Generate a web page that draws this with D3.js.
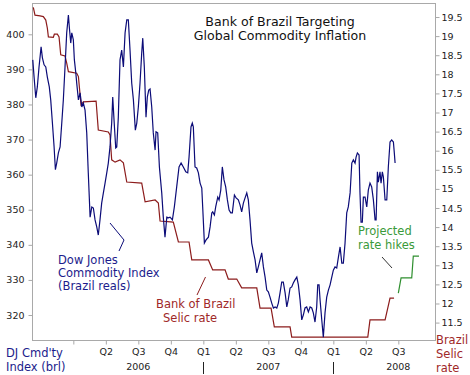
<!DOCTYPE html>
<html>
<head>
<meta charset="utf-8">
<script src="https://cdn.jsdelivr.net/npm/d3@7"></script>
<style>
  body { margin: 0; background: #fff; }
  svg { display: block; font-family: "DejaVu Sans", Verdana, sans-serif; }
</style>
</head>
<body>
<div id="chart"></div>
<script>
// Dow Jones Commodity Index in Brazilian reals (time as decimal year)
const djDates = [
  2005.688, 2005.698, 2005.711, 2005.723, 2005.736, 2005.752, 2005.762, 2005.775, 2005.788, 2005.800,
  2005.815, 2005.826, 2005.839, 2005.852, 2005.862, 2005.872, 2005.885, 2005.898, 2005.911, 2005.923,
  2005.936, 2005.949, 2005.962, 2005.969, 2005.980, 2005.988, 2006.000, 2006.008, 2006.019, 2006.026,
  2006.039, 2006.052, 2006.065, 2006.077, 2006.090, 2006.103, 2006.115, 2006.129, 2006.142, 2006.154,
  2006.167, 2006.180, 2006.192, 2006.205, 2006.218, 2006.231, 2006.244, 2006.257, 2006.269, 2006.282,
  2006.295, 2006.303, 2006.313, 2006.326, 2006.334, 2006.346, 2006.359, 2006.372, 2006.385, 2006.398,
  2006.411, 2006.423, 2006.436, 2006.449, 2006.462, 2006.477, 2006.488, 2006.500, 2006.513, 2006.526,
  2006.534, 2006.546, 2006.559, 2006.569, 2006.580, 2006.590, 2006.603, 2006.615, 2006.629, 2006.636,
  2006.649, 2006.662, 2006.680, 2006.692, 2006.705, 2006.719, 2006.731, 2006.744, 2006.762, 2006.777,
  2006.795, 2006.813, 2006.829, 2006.846, 2006.865, 2006.880, 2006.890, 2006.905, 2006.915, 2006.923,
  2006.936, 2006.949, 2006.962, 2006.975, 2006.988, 2006.995, 2007.008, 2007.021, 2007.039, 2007.052,
  2007.065, 2007.072, 2007.085, 2007.095, 2007.111, 2007.121, 2007.134, 2007.146, 2007.159, 2007.172,
  2007.185, 2007.198, 2007.211, 2007.223, 2007.239, 2007.252, 2007.269, 2007.282, 2007.295, 2007.308,
  2007.321, 2007.334, 2007.346, 2007.359, 2007.372, 2007.385, 2007.398, 2007.411, 2007.423, 2007.436,
  2007.449, 2007.462, 2007.475, 2007.488, 2007.500, 2007.513, 2007.526, 2007.539, 2007.552, 2007.565,
  2007.577, 2007.590, 2007.603, 2007.615, 2007.629, 2007.642, 2007.653, 2007.667, 2007.680, 2007.692,
  2007.705, 2007.719, 2007.731, 2007.744, 2007.757, 2007.769, 2007.782, 2007.795, 2007.808, 2007.821,
  2007.834, 2007.846, 2007.859, 2007.872, 2007.880, 2007.890, 2007.898, 2007.911, 2007.923, 2007.936,
  2007.949, 2007.962, 2007.975, 2007.988, 2008.000, 2008.013, 2008.026, 2008.039, 2008.052, 2008.065,
  2008.077, 2008.090, 2008.103, 2008.115, 2008.129, 2008.142, 2008.154, 2008.167, 2008.175, 2008.185,
  2008.198, 2008.205, 2008.213, 2008.223, 2008.231, 2008.244, 2008.257, 2008.269, 2008.282, 2008.295,
  2008.308, 2008.321, 2008.329, 2008.339, 2008.346, 2008.359, 2008.367, 2008.377, 2008.385, 2008.398,
  2008.411, 2008.423, 2008.436, 2008.449, 2008.462, 2008.469, 2008.475
];
const djValues = [
  392.7, 387.8, 381.9, 385.0, 390.7, 396.4, 393.3, 391.3, 390.7, 387.8,
  385.0, 381.3, 374.7, 367.9, 361.4, 363.3, 366.2, 367.9, 374.7, 381.3,
  390.7, 400.4, 405.5, 402.1, 397.5, 400.4, 398.4, 392.7, 389.0, 386.1,
  381.3, 383.3, 379.3, 380.4, 378.4, 371.9, 360.5, 347.9, 350.8, 350.5,
  347.1, 345.1, 342.8, 347.1, 351.9, 354.8, 357.6, 360.5, 363.3, 367.9,
  374.7, 382.1, 375.6, 367.6, 367.9, 376.4, 392.7, 395.5, 390.7, 400.4,
  404.1, 404.1, 395.5, 386.1, 381.3, 372.7, 374.7, 379.3, 386.1, 394.7,
  398.9, 390.7, 376.4, 382.1, 384.1, 384.4, 379.3, 371.9, 367.0, 372.2,
  371.9, 362.2, 354.8, 347.9, 342.2, 347.9, 347.7, 347.9, 347.1, 350.8,
  356.5, 362.2, 363.3, 362.2, 360.8, 360.5, 365.0, 373.6, 374.7, 373.6,
  362.2, 361.9, 360.5, 357.6, 356.2, 350.8, 340.5, 341.4, 342.2, 345.1,
  349.1, 349.4, 348.5, 350.8, 353.6, 352.8, 355.6, 362.2, 358.5, 356.5,
  352.8, 349.9, 349.1, 349.1, 354.2, 353.4, 352.8, 351.4, 349.4, 351.9,
  353.4, 354.8, 352.8, 347.1, 340.5, 338.0, 335.7, 332.0, 333.7, 335.7,
  337.7, 333.7, 330.8, 327.1, 326.6, 325.1, 323.4, 322.0, 322.3, 322.0,
  323.4, 326.3, 329.4, 329.4, 326.3, 322.3, 324.3, 327.7, 328.0, 329.1,
  330.0, 330.8, 328.6, 324.3, 318.6, 320.0, 322.0, 322.3, 320.9, 322.3,
  322.0, 320.6, 318.0, 322.3, 328.6, 328.6, 324.3, 318.6, 313.7, 320.6,
  325.1, 327.1, 328.6, 330.8, 332.8, 333.7, 333.4, 336.5, 339.4, 334.8,
  334.8, 340.5, 349.1, 350.8, 354.8, 363.3, 364.2, 363.3, 365.0, 366.2,
  365.6, 354.8, 346.5, 346.5, 353.6, 353.6, 350.8, 355.6, 357.6, 356.5,
  352.8, 347.1, 347.1, 360.8, 357.9, 360.8, 357.6, 360.8, 359.3, 352.8,
  352.8, 362.2, 369.3, 369.9, 369.3, 366.2, 363.3
];

// Bank of Brazil Selic rate (%)
const selicDates = [
  2005.692, 2005.705, 2005.744, 2005.769, 2005.788, 2005.800, 2005.808, 2005.846, 2005.854, 2005.877,
  2005.890, 2005.903, 2005.936, 2005.949, 2005.962, 2006.026, 2006.039, 2006.059, 2006.077, 2006.175,
  2006.192, 2006.269, 2006.282, 2006.295, 2006.321, 2006.359, 2006.385, 2006.411, 2006.526, 2006.552,
  2006.629, 2006.654, 2006.667, 2006.769, 2006.808, 2006.890, 2006.911, 2007.039, 2007.072, 2007.167,
  2007.192, 2007.257, 2007.295, 2007.411, 2007.436, 2007.521, 2007.546, 2007.667, 2007.680, 2008.265,
  2008.282, 2008.398, 2008.436, 2008.467
];
const selicRates = [
  19.75, 19.55, 19.53, 19.51, 19.42, 19.21, 18.98, 18.97, 19.05, 19.05,
  18.98, 18.51, 18.48, 18.29, 18.07, 18.03, 17.94, 17.20, 17.28, 17.30,
  16.54, 16.49, 16.41, 15.76, 15.70, 15.76, 15.68, 15.18, 15.15, 14.66,
  14.71, 14.63, 14.16, 14.13, 13.61, 13.61, 13.14, 13.14, 12.88, 12.88,
  12.64, 12.64, 12.41, 12.41, 11.88, 11.88, 11.39, 11.39, 11.12, 11.12,
  11.57, 11.57, 12.14, 12.14
];

// Projected rate hikes
const projDates = [2008.500, 2008.521, 2008.603, 2008.615, 2008.659];
const projRates = [12.27, 12.67, 12.67, 13.24, 13.24];

// Axis ticks and labels
const djTicks = [320, 330, 340, 350, 360, 370, 380, 390, 400];
const rateTicks = [11.5, 12, 12.5, 13, 13.5, 14, 14.5, 15, 15.5, 16, 16.5, 17, 17.5, 18, 18.5, 19, 19.5];
const quarterTicks = [2006, 2006.25, 2006.5, 2006.75, 2007, 2007.25, 2007.5, 2007.75, 2008, 2008.25, 2008.5];
const quarterLabels = ["", "Q2", "Q3", "Q4", "Q1", "Q2", "Q3", "Q4", "Q1", "Q2", "Q3"];
const yearTicks = [2006.5, 2007.5, 2008.5];
const yearLabels = ["2006", "2007", "2008"];
const yearBreaks = [2007, 2008];

class SelicChart {
  constructor(_config) {
    this.config = {
      parentElement: _config.parentElement,
      width: 470,
      height: 375,
      left: 32, right: 435, top: 3, bottom: 340
    };
    this.initVis();
  }

  initVis() {
    let vis = this;
    vis.svg = d3.select(vis.config.parentElement).append('svg')
      .attr('width', vis.config.width)
      .attr('height', vis.config.height);

    vis.dj = djDates.map((t, i) => ({ t, v: djValues[i] }));
    vis.selic = selicDates.map((t, i) => ({ t, v: selicRates[i] }));
    vis.proj = projDates.map((t, i) => ({ t, v: projRates[i] }));
    vis.renderVis();
  }

  renderVis() {
    let vis = this;
    const c = vis.config;
    const svg = vis.svg;
    const grey = '#a9a9a9';
    const navy = '#0c0c78', navyText = '#1c1c8c';
    const red = '#8c1c1c', redText = '#a02828';
    const green = '#2f8f2f', greenText = '#3a9a3a';

    const x = d3.scaleLinear().domain([2005.682, 2008.782]).range([c.left, c.right]);
    const yDJ = d3.scaleLinear().domain([312.88, 408.92]).range([c.bottom, c.top]);
    const yRate = d3.scaleLinear().domain([11.044, 19.867]).range([c.bottom, c.top]);

    // frame
    svg.append('rect')
      .attr('x', c.left + 0.5).attr('y', c.top + 0.5)
      .attr('width', c.right - c.left).attr('height', c.bottom - c.top)
      .attr('fill', 'none').attr('stroke', grey);

    const styleAxis = g => {
      g.select('.domain').remove();
      g.attr('font-family', null).attr('font-size', null);
      g.selectAll('line').attr('stroke', grey);
      g.selectAll('text').attr('fill', '#222').style('font-size', '9.5px');
    };

    svg.append('g')
      .attr('transform', `translate(${c.left + 0.5},0)`)
      .call(d3.axisLeft(yDJ).tickValues(djTicks).tickSize(4).tickPadding(4))
      .call(styleAxis);

    svg.append('g')
      .attr('transform', `translate(${c.right + 0.5},0)`)
      .call(d3.axisRight(yRate).tickValues(rateTicks).tickSize(4).tickPadding(2).tickFormat(d => String(d)))
      .call(styleAxis);

    svg.append('g')
      .attr('transform', `translate(0,${c.bottom + 0.5})`)
      .call(d3.axisBottom(x).tickValues(quarterTicks).tickSize(4).tickPadding(4)
        .tickFormat((d, i) => quarterLabels[i]))
      .call(styleAxis);

    svg.selectAll('.year')
      .data(yearTicks)
      .enter().append('text')
      .attr('x', d => x(d)).attr('y', 370)
      .attr('text-anchor', 'middle')
      .style('font-size', '9.5px').attr('fill', '#222')
      .text((d, i) => yearLabels[i]);

    svg.selectAll('.year-break')
      .data(yearBreaks)
      .enter().append('line')
      .attr('x1', d => Math.round(x(d)) + 0.5).attr('x2', d => Math.round(x(d)) + 0.5)
      .attr('y1', 362).attr('y2', 374)
      .attr('stroke', '#222');

    // series
    const lineDJ = d3.line().x(d => x(d.t)).y(d => yDJ(d.v));
    const lineRate = d3.line().x(d => x(d.t)).y(d => yRate(d.v));

    svg.append('path').datum(vis.selic)
      .attr('d', lineRate).attr('fill', 'none')
      .attr('stroke', red).attr('stroke-width', 1.2);

    svg.append('path').datum(vis.proj)
      .attr('d', lineRate).attr('fill', 'none')
      .attr('stroke', green).attr('stroke-width', 1.2);

    svg.append('path').datum(vis.dj)
      .attr('d', lineDJ).attr('fill', 'none')
      .attr('stroke', navy).attr('stroke-width', 1.2);

    // title
    svg.append('text')
      .attr('x', 280).attr('text-anchor', 'middle')
      .style('font-size', '12.6px').attr('fill', '#111')
      .selectAll('tspan')
      .data(['Bank of Brazil Targeting', 'Global Commodity Inflation'])
      .enter().append('tspan')
      .attr('x', 280).attr('y', (d, i) => 26 + i * 13.5)
      .text(d => d);

    // annotations
    const note = (lines, xPos, y0, step, color, size) => {
      svg.append('text')
        .style('font-size', size).attr('fill', color)
        .selectAll('tspan')
        .data(lines)
        .enter().append('tspan')
        .attr('x', (d, i) => Array.isArray(xPos) ? xPos[i] : xPos)
        .attr('y', (d, i) => y0 + i * step)
        .text(d => d);
    };
    const leader = (pts, color) => {
      svg.append('path')
        .attr('d', d3.line()(pts))
        .attr('fill', 'none').attr('stroke', color).attr('stroke-width', 1);
    };

    note(['Dow Jones', 'Commodity Index', '(Brazil reals)'], 58, 264, 13, navyText, '11.5px');
    leader([[110, 223], [124, 240], [119, 251]], navy);

    note(['Bank of Brazil', 'Selic rate'], [156, 163], 308, 14, redText, '11.5px');
    leader([[197, 295], [205.5, 277]], red);

    note(['Projected', 'rate hikes'], 358, 235, 13.5, greenText, '11.5px');
    leader([[382, 257], [392, 268]], '#333');

    note(["DJ Cmd'ty", 'Index (brl)'], 6, 357, 13.5, navyText, '11.5px');
    note(['Brazil', 'Selic', 'rate'], 436, 343.5, 14, redText, '11.5px');
  }
}

new SelicChart({ parentElement: '#chart' });
</script>
</body>
</html>
